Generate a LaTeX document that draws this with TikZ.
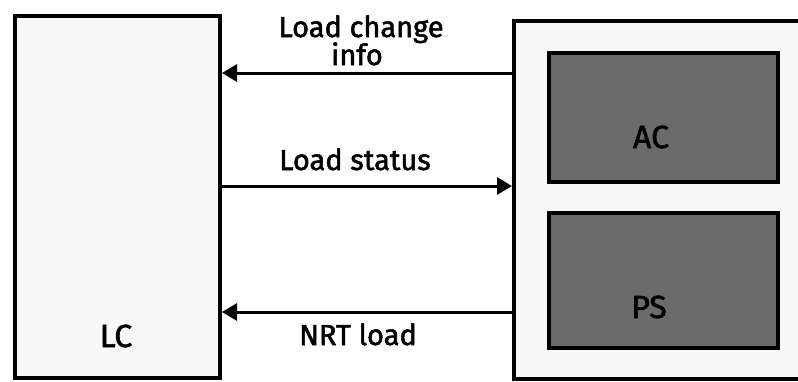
\documentclass[tikz,border=0pt]{standalone}
\usepackage{fontspec}
\newfontfamily\lblfont{Fira Sans}[FakeBold=1.8]
\usetikzlibrary{arrows.meta}
\begin{document}
\begin{tikzpicture}[x=1pt,y=-1pt,
  outerbox/.style={draw=black, line width=4pt, fill=black!3},
  innerbox/.style={draw=black, line width=3.5pt, fill=black!58},
  flow/.style={line width=3pt, -{Triangle[length=15pt,width=17pt]}},
  lbl/.style={font=\lblfont\fontsize{29}{30}\selectfont, inner sep=0pt, anchor=base},
  biglbl/.style={font=\lblfont\fontsize{32}{33}\selectfont, inner sep=0pt, anchor=base}]
  \useasboundingbox (0,0) rectangle (798,381);
  \clip (0,0) rectangle (798,381);
  % left controller block
  \node[outerbox, minimum width=205pt, minimum height=362pt, anchor=north west] (lc) at (13,14) {};
  \node[biglbl] (lctext) at (116,347) {LC};
  % right block holding AC and PS
  \node[outerbox, minimum width=300pt, minimum height=358pt, anchor=north west] (rb) at (512,19) {};
  \node[innerbox, minimum width=229pt, minimum height=129pt, anchor=north west] (ac) at (547,51) {};
  \node[innerbox, minimum width=229pt, minimum height=135pt, anchor=north west] (ps) at (547,211) {};
  \node[biglbl] (actext) at (651,148) {AC};
  \node[biglbl] (pstext) at (649,318) {PS};
  % signal arrows
  \coordinate (r1) at (rb.west |- 0,73);
  \coordinate (l1) at (lc.east |- 0,73);
  \coordinate (r2) at (rb.west |- 0,186);
  \coordinate (l2) at (lc.east |- 0,186);
  \coordinate (r3) at (rb.west |- 0,312);
  \coordinate (l3) at (lc.east |- 0,312);
  \draw[flow] (r1) -- (l1);
  \draw[flow] (l2) -- (r2);
  \draw[flow] (r3) -- (l3);
  \node[lbl] (t1a) at (361,37) {Load change};
  \node[lbl] (t1b) at (357,65) {info};
  \node[lbl] (t2) at (355,170) {Load status};
  \node[lbl] (t3) at (358,345) {NRT load};
\end{tikzpicture}
\end{document}
